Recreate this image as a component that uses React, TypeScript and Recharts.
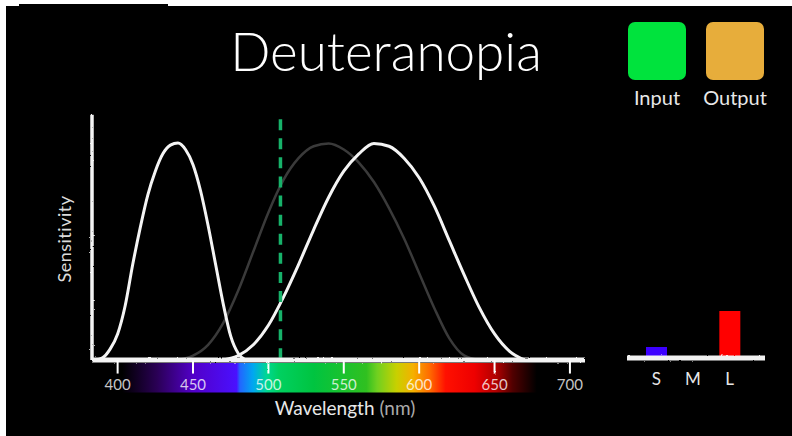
import React from 'react';
import { LineChart, Line, XAxis, YAxis, ReferenceLine, ReferenceArea, BarChart, Bar, Cell } from 'recharts';

const W = 792;
const H = 436;

const wavelengthTicks = [400, 450, 500, 550, 600, 650, 700];

const sWavelengths = [385, 390, 395, 400, 405, 410, 415, 420, 425, 430, 435, 440, 445, 450, 455, 460, 465, 470, 475, 480, 485];
const sValues = [0, 0.01, 0.05, 0.12, 0.25, 0.44, 0.61, 0.76, 0.87, 0.95, 0.99, 1.0, 0.97, 0.9, 0.78, 0.62, 0.44, 0.26, 0.11, 0.03, 0];

const mWavelengths = [440, 450, 460, 470, 480, 490, 500, 510, 520, 530, 540, 550, 560, 570, 580, 590, 600, 610, 620, 630, 640];
const mValues = [0, 0.02, 0.07, 0.17, 0.32, 0.5, 0.68, 0.83, 0.93, 0.985, 0.998, 0.97, 0.91, 0.82, 0.7, 0.56, 0.4, 0.24, 0.1, 0.02, 0];

const lWavelengths = [470, 480, 490, 500, 510, 520, 530, 540, 550, 560, 570, 580, 590, 600, 610, 620, 630, 640, 650, 660, 670];
const lValues = [0, 0.02, 0.07, 0.16, 0.29, 0.44, 0.6, 0.75, 0.87, 0.95, 0.998, 0.985, 0.93, 0.84, 0.71, 0.55, 0.39, 0.24, 0.12, 0.04, 0];

const inputWavelength = 508;

const outputCones = ['S', 'M', 'L'];
const outputValues = [0.22, 0, 0.94];
const outputColors = ['#3c00ff', '#777777', '#ff0000'];

const toSeries = (nms: number[], vals: number[]) => nms.map((nm, i) => ({ nm, v: vals[i] }));
const sData = toSeries(sWavelengths, sValues);
const mData = toSeries(mWavelengths, mValues);
const lData = toSeries(lWavelengths, lValues);
const barData = outputCones.map((c, i) => ({ cone: c, v: outputValues[i] }));

const FONT = 'Lato, "Open Sans", sans-serif';

const spectrumStops: [number, string][] = [
  [0, '#000000'], [0.084, '#2a0055'], [0.171, '#5200c8'], [0.276, '#4a10ff'], [0.284, '#2266ff'],
  [0.316, '#00a8f0'], [0.349, '#00d890'], [0.378, '#00d060'], [0.462, '#00c440'], [0.589, '#30c020'],
  [0.615, '#70d020'], [0.662, '#c8d000'], [0.702, '#f5b000'], [0.742, '#ff6a00'], [0.78, '#ff1000'],
  [0.85, '#ee0000'], [0.902, '#b00000'], [0.942, '#500000'], [1, '#000000'],
];

const WaveTick = (props: any) => {
  const { x, y, payload } = props;
  return (
    <g>
      <line x1={x} x2={x} y1={y - 32} y2={y - 19} stroke="#fff" strokeWidth={2} filter="url(#chalk)" />
      <text x={x} y={y - 3} textAnchor="middle" fill="rgba(255,255,255,0.78)" fontSize={15} fontFamily={FONT}>
        {payload.value}
      </text>
    </g>
  );
};

const ConeTick = (props: any) => {
  const { x, y, payload } = props;
  return (
    <text x={x} y={y + 27} textAnchor="middle" fill="#e6e6e6" fontSize={17} fontFamily={FONT}>
      {payload.value}
    </text>
  );
};

export default function App() {
  return (
    <div style={{ position: 'absolute', left: 0, top: 0, width: W, height: H, background: '#fff', overflow: 'hidden' }}>
      <div style={{ position: 'absolute', left: 6, top: 6, width: W - 6, height: H - 6, background: '#000' }} />
      <div style={{ position: 'absolute', left: 19, top: 4, width: 149, height: 3, background: '#000' }} />
      <div style={{ position: 'absolute', left: 0, top: 0 }}>
        <LineChart width={W} height={H} data={lData} margin={{ left: 92, right: 207, top: 110.45, bottom: 13.45 }}>
          <defs>
            <linearGradient id="spectrum" x1="0" y1="0" x2="1" y2="0">
              {spectrumStops.map(([o, c], i) => (
                <stop key={i} offset={o} stopColor={c} />
              ))}
            </linearGradient>
            <filter id="chalk" filterUnits="userSpaceOnUse" x="0" y="0" width={W} height={H}>
              <feTurbulence type="fractalNoise" baseFrequency="0.35" numOctaves={2} seed={3} result="noise" />
              <feDisplacementMap in="SourceGraphic" in2="noise" scale={2} xChannelSelector="R" yChannelSelector="G" />
            </filter>
          </defs>
          <XAxis
            type="number"
            dataKey="nm"
            domain={[383, 710]}
            ticks={wavelengthTicks}
            interval={0}
            allowDataOverflow
            height={30}
            axisLine={false}
            tickLine={false}
            tickSize={0}
            tickMargin={0}
            tick={<WaveTick />}
          />
          <YAxis hide type="number" domain={[-0.15, 1.15]} allowDataOverflow />
          <ReferenceArea x1={403} x2={678} y1={-0.15} y2={-0.014} fill="url(#spectrum)" fillOpacity={1} stroke="none" ifOverflow="visible" />
          <Line data={mData} dataKey="v" type="monotone" stroke="#3a3a3a" strokeWidth={2.5} dot={false} isAnimationActive={false} />
          <Line data={sData} dataKey="v" type="monotone" stroke="#f4f4f4" strokeWidth={3} dot={false} isAnimationActive={false} />
          <Line data={lData} dataKey="v" type="monotone" stroke="#f4f4f4" strokeWidth={3} dot={false} isAnimationActive={false} />
          <ReferenceLine
            segment={[{ x: inputWavelength, y: 1.11 }, { x: inputWavelength, y: 0.01 }]}
            stroke="#17b26a"
            strokeWidth={3.5}
            strokeDasharray="11 8.1"
          />
          <ReferenceLine y={0} stroke="#f4f4f4" strokeWidth={5} filter="url(#chalk)" />
          <ReferenceLine segment={[{ x: 383, y: 0 }, { x: 383, y: 1.13 }]} stroke="#f4f4f4" strokeWidth={3.5} filter="url(#chalk)" ifOverflow="visible" />
        </LineChart>
      </div>
      <div style={{ position: 'absolute', left: 0, top: 0 }}>
        <BarChart width={W} height={H} data={barData} margin={{ left: 627, right: 27, top: 308, bottom: 48 }}>
          <XAxis
            dataKey="cone"
            height={30}
            padding={{ left: 11, right: 17 }}
            axisLine={{ stroke: '#f2f2f2', strokeWidth: 5, filter: 'url(#chalk)' }}
            tickLine={false}
            tickSize={0}
            tickMargin={0}
            tick={<ConeTick />}
          />
          <YAxis hide domain={[0, 1]} />
          <Bar dataKey="v" barSize={21} isAnimationActive={false}>
            {barData.map((d, i) => (
              <Cell key={d.cone} fill={outputColors[i]} />
            ))}
          </Bar>
        </BarChart>
      </div>
      <svg width={W} height={H} style={{ position: 'absolute', left: 0, top: 0, pointerEvents: 'none' }}>
        <text x={386} y={71} textAnchor="middle" fill="#fff" fontSize={53} fontWeight={300} fontFamily={FONT}>
          Deuteranopia
        </text>
        <rect x={628} y={22} width={58} height={58} rx={7} fill="#00e33d" />
        <rect x={706} y={22} width={58} height={58} rx={7} fill="#e7ad3b" />
        <text x={657} y={105} textAnchor="middle" fill="#e8e8e8" fontSize={20} fontFamily={FONT}>Input</text>
        <text x={735} y={105} textAnchor="middle" fill="#e8e8e8" fontSize={20} fontFamily={FONT}>Output</text>
        <text x={71} y={239} transform="rotate(-90 71 239)" textAnchor="middle" fill="#dcdcdc" fontSize={18} letterSpacing={0.5} fontFamily={FONT}>
          Sensitivity
        </text>
        <text x={345} y={415} textAnchor="middle" fontSize={19} fontFamily={FONT}>
          <tspan fill="#e8e8e8">Wavelength </tspan>
          <tspan fill="#aaaaaa">(nm)</tspan>
        </text>
      </svg>
    </div>
  );
}
